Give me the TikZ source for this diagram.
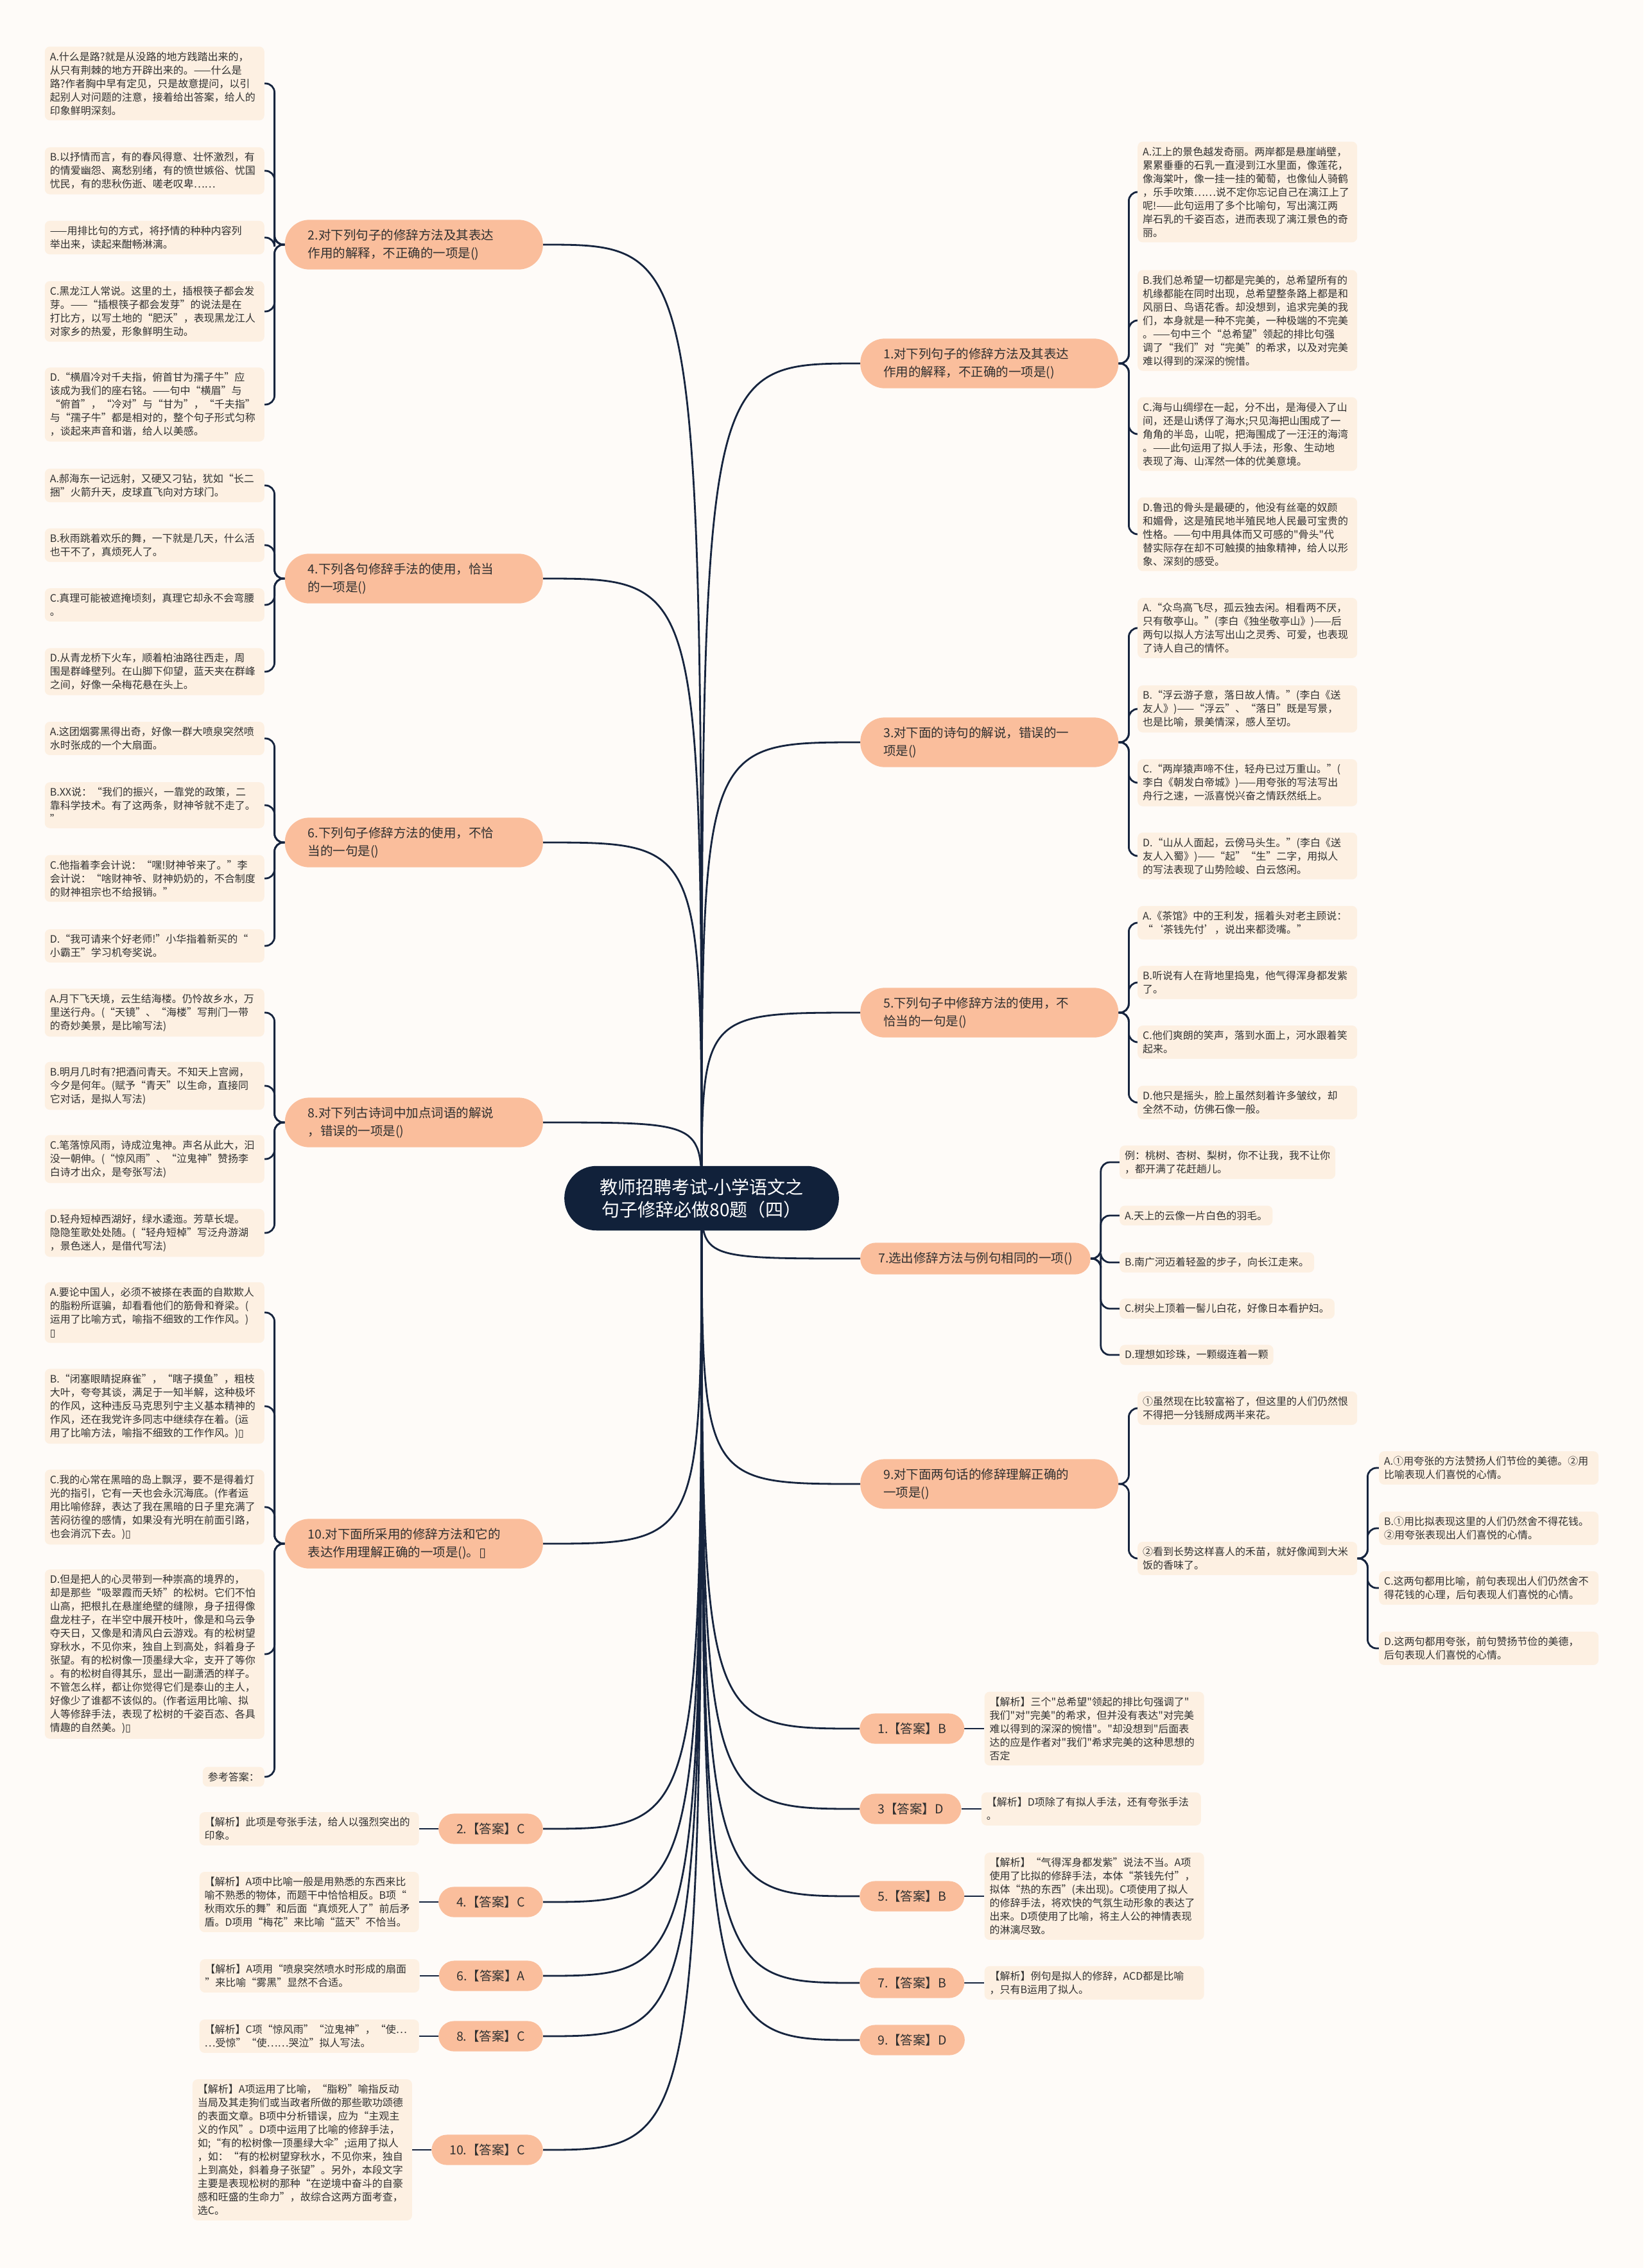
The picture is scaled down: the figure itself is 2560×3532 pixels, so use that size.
\documentclass[tikz,border=0pt]{standalone}
\usepackage{fontspec}
\setmainfont{Noto Sans CJK SC}[Ligatures=TeXOff]
\newfontfamily\symfont{DejaVu Sans}
\usepackage{xcolor}
\usepackage{tikz}
\usetikzlibrary{positioning}

\definecolor{navy}{RGB}{17,33,58}
\definecolor{wirecol}{RGB}{22,36,62}
\definecolor{salmon}{RGB}{250,190,156}
\definecolor{peach}{RGB}{253,240,226}
\definecolor{paperbg}{RGB}{254,251,248}
\definecolor{ink}{RGB}{48,48,48}
\newcommand{\tofu}{{\symfont ▯}}

\pgfdeclarelayer{paper}
\pgfdeclarelayer{links}
\pgfsetlayers{paper,links,main}

\begin{document}
\begin{tikzpicture}[x=1pt, y=-1pt,
    hub/.style={fill=navy, text=white, rounded corners=50pt, align=center,
        font=\fontsize{28pt}{35pt}\selectfont, inner xsep=55pt, inner ysep=19.5pt},
    qpill/.style={fill=salmon, text=ink, rounded corners=38pt, align=left, text width=330pt,
        font=\fontsize{19.5pt}{28pt}\selectfont, inner xsep=36pt, inner ysep=14.5pt},
    apill/.style={fill=salmon, text=ink, rounded corners=24pt,
        font=\fontsize{19.5pt}{28pt}\selectfont, inner xsep=28pt, inner ysep=14.5pt},
    tipbox/.style={fill=peach, text=ink, rounded corners=8pt, align=left,
        font=\fontsize{16pt}{21pt}\selectfont, inner sep=8pt},
    leaf/.style={tipbox, text width=326pt},
    wire/.style={draw=wirecol, line width=2.8pt}]

    % Khung nền
    \useasboundingbox (0,0) rectangle (2560,3532);
    \begin{pgfonlayer}{paper}
        \fill[paperbg] (0,0) rectangle (2560,3532);
    \end{pgfonlayer}

    % Nút trung tâm
    \node[hub] (hub) at (1093,1866) {教师招聘考试-小学语文之\\句子修辞必做80题（四）};

    % Nhánh bên trái
    \node[qpill, anchor=east] (p2) at (846,381) {2.对下列句子的修辞方法及其表达\\作用的解释，不正确的一项是()};
    \node[qpill, anchor=east] (p4) at (846,901) {4.下列各句修辞手法的使用，恰当\\的一项是()};
    \node[qpill, anchor=east] (p6) at (846,1312) {6.下列句子修辞方法的使用，不恰\\当的一句是()};
    \node[qpill, anchor=east] (p8) at (846,1748) {8.对下列古诗词中加点词语的解说\\，错误的一项是()};
    \node[qpill, anchor=east] (p10) at (846,2404) {10.对下面所采用的修辞方法和它的\\表达作用理解正确的一项是()。\tofu};

    \node[leaf, anchor=east] (l2a) at (412,130) {A.什么是路?就是从没路的地方践踏出来的，\\从只有荆棘的地方开辟出来的。——什么是\\路?作者胸中早有定见，只是故意提问，以引\\起别人对问题的注意，接着给出答案，给人的\\印象鲜明深刻。};
    \node[leaf, anchor=east] (l2b) at (412,266) {B.以抒情而言，有的春风得意、壮怀激烈，有\\的情爱幽怨、离愁别绪，有的愤世嫉俗、忧国\\忧民，有的悲秋伤逝、嗟老叹卑……};
    \node[leaf, anchor=east] (l2e) at (412,370) {——用排比句的方式，将抒情的种种内容列\\举出来，读起来酣畅淋漓。};
    \node[leaf, anchor=east] (l2c) at (412,485) {C.黑龙江人常说。这里的土，插根筷子都会发\\芽。——“插根筷子都会发芽”的说法是在\\打比方，以写土地的“肥沃”，表现黑龙江人\\对家乡的热爱，形象鲜明生动。};
    \node[leaf, anchor=east] (l2d) at (412,630) {D.“横眉冷对千夫指，俯首甘为孺子牛”应\\该成为我们的座右铭。——句中“横眉”与\\“俯首”，“冷对”与“甘为”，“千夫指”\\与“孺子牛”都是相对的，整个句子形式匀称\\，谈起来声音和谐，给人以美感。};

    \node[leaf, anchor=east] (l4a) at (412,756) {A.郝海东一记远射，又硬又刁钻，犹如“长二\\捆”火箭升天，皮球直飞向对方球门。};
    \node[leaf, anchor=east] (l4b) at (412,849) {B.秋雨跳着欢乐的舞，一下就是几天，什么活\\也干不了，真烦死人了。};
    \node[leaf, anchor=east] (l4c) at (412,942) {C.真理可能被遮掩顷刻，真理它却永不会弯腰\\。};
    \node[leaf, anchor=east] (l4d) at (412,1046) {D.从青龙桥下火车，顺着柏油路往西走，周\\围是群峰壁列。在山脚下仰望，蓝天夹在群峰\\之间，好像一朵梅花悬在头上。};

    \node[leaf, anchor=east] (l6a) at (412,1150) {A.这团烟雾黑得出奇，好像一群大喷泉突然喷\\水时张成的一个大扇面。};
    \node[leaf, anchor=east] (l6b) at (412,1254) {B.XX说：“我们的振兴，一靠党的政策，二\\靠科学技术。有了这两条，财神爷就不走了。\\”};
    \node[leaf, anchor=east] (l6c) at (412,1368) {C.他指着李会计说：“嘿!财神爷来了。”李\\会计说：“啥财神爷、财神奶奶的，不合制度\\的财神祖宗也不给报销。”};
    \node[leaf, anchor=east] (l6d) at (412,1473) {D.“我可请来个好老师!”小华指着新买的“\\小霸王”学习机夸奖说。};

    \node[leaf, anchor=east] (l8a) at (412,1577) {A.月下飞天境，云生结海楼。仍怜故乡水，万\\里送行舟。(“天镜”、“海楼”写荆门一带\\的奇妙美景，是比喻写法)};
    \node[leaf, anchor=east] (l8b) at (412,1691) {B.明月几时有?把酒问青天。不知天上宫阙，\\今夕是何年。(赋予“青天”以生命，直接同\\它对话，是拟人写法)};
    \node[leaf, anchor=east] (l8c) at (412,1805) {C.笔落惊风雨，诗成泣鬼神。声名从此大，汩\\没一朝伸。(“惊风雨”、“泣鬼神”赞扬李\\白诗才出众，是夸张写法)};
    \node[leaf, anchor=east] (l8d) at (412,1920) {D.轻舟短棹西湖好，绿水逶迤。芳草长堤。\\隐隐笙歌处处随。(“轻舟短棹”写泛舟游湖\\，景色迷人，是借代写法)};

    \node[leaf, anchor=east] (l10a) at (412,2044) {A.要论中国人，必须不被搽在表面的自欺欺人\\的脂粉所诓骗，却看看他们的筋骨和脊梁。(\\运用了比喻方式，喻指不细致的工作作风。)\\\tofu};
    \node[leaf, anchor=east] (l10b) at (412,2190) {B.“闭塞眼睛捉麻雀”，“瞎子摸鱼”，粗枝\\大叶，夸夸其谈，满足于一知半解，这种极坏\\的作风，这种违反马克思列宁主义基本精神的\\作风，还在我党许多同志中继续存在着。(运\\用了比喻方法，喻指不细致的工作作风。)\tofu};
    \node[leaf, anchor=east] (l10c) at (412,2347) {C.我的心常在黑暗的岛上飘浮，要不是得着灯\\光的指引，它有一天也会永沉海底。(作者运\\用比喻修辞，表达了我在黑暗的日子里充满了\\苦闷彷徨的感情，如果没有光明在前面引路，\\也会消沉下去。)\tofu};
    \node[leaf, anchor=east] (l10d) at (412,2576) {D.但是把人的心灵带到一种崇高的境界的，\\却是那些“吸翠霞而夭矫”的松树。它们不怕\\山高，把根扎在悬崖绝壁的缝隙，身子扭得像\\盘龙柱子，在半空中展开枝叶，像是和乌云争\\夺天日，又像是和清风白云游戏。有的松树望\\穿秋水，不见你来，独自上到高处，斜着身子\\张望。有的松树像一顶墨绿大伞，支开了等你\\。有的松树自得其乐，显出一副潇洒的样子。\\不管怎么样，都让你觉得它们是泰山的主人，\\好像少了谁都不该似的。(作者运用比喻、拟\\人等修辞手法，表现了松树的千姿百态、各具\\情趣的自然美。)\tofu};
    \node[tipbox, anchor=east] (lref) at (412,2767) {参考答案：};

    % Đáp án bên trái
    \node[apill, anchor=east] (ap2) at (846,2848) {2.【答案】C};
    \node[apill, anchor=east] (ap4) at (846,2962) {4.【答案】C};
    \node[apill, anchor=east] (ap6) at (846,3077) {6.【答案】A};
    \node[apill, anchor=east] (ap8) at (846,3171) {8.【答案】C};
    \node[apill, anchor=east] (ap10) at (846,3348) {10.【答案】C};

    \node[leaf, left=30pt of ap2] (a2) {【解析】此项是夸张手法，给人以强烈突出的\\印象。};
    \node[leaf, left=30pt of ap4] (a4) {【解析】A项中比喻一般是用熟悉的东西来比\\喻不熟悉的物体，而题干中恰恰相反。B项“\\秋雨欢乐的舞”和后面“真烦死人了”前后矛\\盾。D项用“梅花”来比喻“蓝天”不恰当。};
    \node[leaf, left=30pt of ap6] (a6) {【解析】A项用“喷泉突然喷水时形成的扇面\\”来比喻“雾黑”显然不合适。};
    \node[leaf, left=30pt of ap8] (a8) {【解析】C项“惊风雨”“泣鬼神”，“使…\\…受惊”“使……哭泣”拟人写法。};
    \node[leaf, left=30pt of ap10] (a10) {【解析】A项运用了比喻，“脂粉”喻指反动\\当局及其走狗们或当政者所做的那些歌功颂德\\的表面文章。B项中分析错误，应为“主观主\\义的作风”。D项中运用了比喻的修辞手法，\\如;“有的松树像一顶墨绿大伞”;运用了拟人\\，如：“有的松树望穿秋水，不见你来，独自\\上到高处，斜着身子张望”。另外，本段文字\\主要是表现松树的那种“在逆境中奋斗的自豪\\感和旺盛的生命力”，故综合这两方面考查，\\选C。};

    % Nhánh bên phải
    \node[qpill, anchor=west] (p1) at (1340,566) {1.对下列句子的修辞方法及其表达\\作用的解释，不正确的一项是()};
    \node[qpill, anchor=west] (p3) at (1340,1156) {3.对下面的诗句的解说，错误的一\\项是()};
    \node[qpill, anchor=west] (p5) at (1340,1577) {5.下列句子中修辞方法的使用，不\\恰当的一句是()};
    \node[apill, anchor=west] (p7) at (1340,1960) {7.选出修辞方法与例句相同的一项()};
    \node[qpill, anchor=west] (p9) at (1340,2311) {9.对下面两句话的修辞理解正确的\\一项是()};

    \node[leaf, anchor=west] (r1a) at (1772,299) {A.江上的景色越发奇丽。两岸都是悬崖峭壁，\\累累垂垂的石乳一直浸到江水里面，像莲花，\\像海棠叶，像一挂一挂的葡萄，也像仙人骑鹤\\，乐手吹策……说不定你忘记自己在漓江上了\\呢!——此句运用了多个比喻句，写出漓江两\\岸石乳的千姿百态，进而表现了漓江景色的奇\\丽。};
    \node[leaf, anchor=west] (r1b) at (1772,499) {B.我们总希望一切都是完美的，总希望所有的\\机缘都能在同时出现，总希望整条路上都是和\\风丽日、鸟语花香。却没想到，追求完美的我\\们，本身就是一种不完美，一种极端的不完美\\。——句中三个“总希望”领起的排比句强\\调了“我们”对“完美”的希求，以及对完美\\难以得到的深深的惋惜。};
    \node[leaf, anchor=west] (r1c) at (1772,676) {C.海与山绸缪在一起，分不出，是海侵入了山\\间，还是山诱俘了海水;只见海把山围成了一\\角角的半岛，山呢，把海围成了一汪汪的海湾\\。——此句运用了拟人手法，形象、生动地\\表现了海、山浑然一体的优美意境。};
    \node[leaf, anchor=west] (r1d) at (1772,832) {D.鲁迅的骨头是最硬的，他没有丝毫的奴颜\\和媚骨，这是殖民地半殖民地人民最可宝贵的\\性格。——句中用具体而又可感的"骨头"代\\替实际存在却不可触摸的抽象精神，给人以形\\象、深刻的感受。};

    \node[leaf, anchor=west] (r3a) at (1772,978) {A.“众鸟高飞尽，孤云独去闲。相看两不厌，\\只有敬亭山。”(李白《独坐敬亭山》)——后\\两句以拟人方法写出山之灵秀、可爱，也表现\\了诗人自己的情怀。};
    \node[leaf, anchor=west] (r3b) at (1772,1104) {B.“浮云游子意，落日故人情。”(李白《送\\友人》)——“浮云”、“落日”既是写景，\\也是比喻，景美情深，感人至切。};
    \node[leaf, anchor=west] (r3c) at (1772,1219) {C.“两岸猿声啼不住，轻舟已过万重山。”(\\李白《朝发白帝城》)——用夸张的写法写出\\舟行之速，一派喜悦兴奋之情跃然纸上。};
    \node[leaf, anchor=west] (r3d) at (1772,1333) {D.“山从人面起，云傍马头生。”(李白《送\\友人入蜀》)——“起”“生”二字，用拟人\\的写法表现了山势险峻、白云悠闲。};

    \node[leaf, anchor=west] (r5a) at (1772,1437) {A.《茶馆》中的王利发，摇着头对老主顾说：\\“‘茶钱先付’，说出来都烫嘴。”};
    \node[leaf, anchor=west] (r5b) at (1772,1530) {B.听说有人在背地里捣鬼，他气得浑身都发紫\\了。};
    \node[leaf, anchor=west] (r5c) at (1772,1623) {C.他们爽朗的笑声，落到水面上，河水跟着笑\\起来。};
    \node[leaf, anchor=west] (r5d) at (1772,1717) {D.他只是摇头，脸上虽然刻着许多皱纹，却\\全然不动，仿佛石像一般。};

    \node[tipbox, anchor=west] (r7e) at (1744,1810) {例：桃树、杏树、梨树，你不让我，我不让你\\，都开满了花赶趟儿。};
    \node[tipbox, anchor=west] (r7a) at (1744,1893) {A.天上的云像一片白色的羽毛。};
    \node[tipbox, anchor=west] (r7b) at (1744,1966) {B.南广河迈着轻盈的步子，向长江走来。};
    \node[tipbox, anchor=west] (r7c) at (1744,2038) {C.树尖上顶着一髻儿白花，好像日本看护妇。};
    \node[tipbox, anchor=west] (r7d) at (1744,2110) {D.理想如珍珠，一颗缀连着一颗};

    \node[leaf, anchor=west] (r9a) at (1772,2193) {①虽然现在比较富裕了，但这里的人们仍然恨\\不得把一分钱掰成两半来花。};
    \node[leaf, anchor=west] (r9b) at (1772,2427) {②看到长势这样喜人的禾苗，就好像闻到大米\\饭的香味了。};
    \node[leaf, anchor=west] (s9a) at (2148,2286) {A.①用夸张的方法赞扬人们节俭的美德。②用\\比喻表现人们喜悦的心情。};
    \node[leaf, anchor=west] (s9b) at (2148,2380) {B.①用比拟表现这里的人们仍然舍不得花钱。\\②用夸张表现出人们喜悦的心情。};
    \node[leaf, anchor=west] (s9c) at (2148,2473) {C.这两句都用比喻，前句表现出人们仍然舍不\\得花钱的心理，后句表现人们喜悦的心情。};
    \node[leaf, anchor=west] (s9d) at (2148,2567) {D.这两句都用夸张，前句赞扬节俭的美德，\\后句表现人们喜悦的心情。};

    % Đáp án bên phải
    \node[apill, anchor=west] (ap1) at (1339,2692) {1.【答案】B};
    \node[apill, anchor=west] (ap3) at (1339,2817) {3【答案】D};
    \node[apill, anchor=west] (ap5) at (1339,2953) {5.【答案】B};
    \node[apill, anchor=west] (ap7) at (1339,3088) {7.【答案】B};
    \node[apill, anchor=west] (ap9) at (1339,3177) {9.【答案】D};

    \node[leaf, right=31pt of ap1] (b1) {【解析】三个"总希望"领起的排比句强调了"\\我们"对"完美"的希求，但并没有表达"对完美\\难以得到的深深的惋惜"。"却没想到"后面表\\达的应是作者对"我们"希求完美的这种思想的\\否定};
    \node[leaf, right=31pt of ap3] (b3) {【解析】D项除了有拟人手法，还有夸张手法\\。};
    \node[leaf, right=31pt of ap5] (b5) {【解析】“气得浑身都发紫”说法不当。A项\\使用了比拟的修辞手法，本体“茶钱先付”，\\拟体“热的东西”(未出现)。C项使用了拟人\\的修辞手法，将欢快的气氛生动形象的表达了\\出来。D项使用了比喻，将主人公的神情表现\\的淋漓尽致。};
    \node[leaf, right=31pt of ap7] (b7) {【解析】例句是拟人的修辞，ACD都是比喻\\，只有B运用了拟人。};

    % Đường nối
    \begin{pgfonlayer}{links}
        \foreach \p in {p2,p4,p6,p8,p10,ap2,ap4,ap6,ap8,ap10}
            \draw[wire] (hub.center) .. controls (hub.center |- \p.east) .. (\p.east);
        \foreach \p in {p1,p3,p5,p7,p9,ap1,ap3,ap5,ap7,ap9}
            \draw[wire] (hub.center) .. controls (hub.center |- \p.west) .. (\p.west);

        \foreach \p/\l in {p2/l2a,p2/l2b,p2/l2e,p2/l2c,p2/l2d,
                p4/l4a,p4/l4b,p4/l4c,p4/l4d,
                p6/l6a,p6/l6b,p6/l6c,p6/l6d,
                p8/l8a,p8/l8b,p8/l8c,p8/l8d,
                p10/l10a,p10/l10b,p10/l10c,p10/l10d,p10/lref}
            \draw[wire, rounded corners=14pt] (\p.west) -- ++(-16,0) |- (\l.east);
        \foreach \p/\l in {p1/r1a,p1/r1b,p1/r1c,p1/r1d,
                p3/r3a,p3/r3b,p3/r3c,p3/r3d,
                p5/r5a,p5/r5b,p5/r5c,p5/r5d,
                p7/r7e,p7/r7a,p7/r7b,p7/r7c,p7/r7d,
                p9/r9a,p9/r9b,
                r9b/s9a,r9b/s9b,r9b/s9c,r9b/s9d}
            \draw[wire, rounded corners=14pt] (\p.east) -- ++(16,0) |- (\l.west);

        \foreach \p/\l in {ap2/a2,ap4/a4,ap6/a6,ap8/a8,ap10/a10}
            \draw[wire] (\p.west) -- (\l.east);
        \foreach \p/\l in {ap1/b1,ap3/b3,ap5/b5,ap7/b7}
            \draw[wire] (\p.east) -- (\l.west);
    \end{pgfonlayer}
\end{tikzpicture}
\end{document}
